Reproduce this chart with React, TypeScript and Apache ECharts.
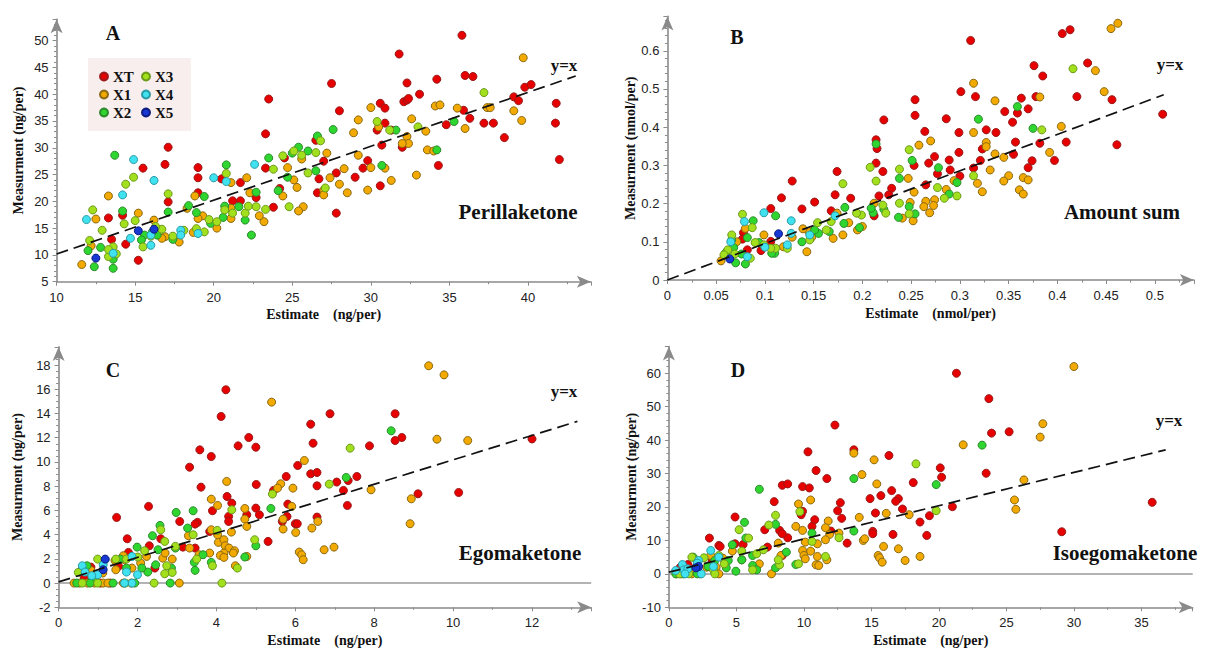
import React, { useEffect, useRef } from "react";
import * as echarts from "echarts";

// ---------- Data ----------
const SERIES_NAMES = ["XT", "X1", "X2", "X3", "X4", "X5"];

// Panel A: Perillaketone (ng/per)
const A_XT = [[35.8,51.0],[31.8,47.5],[27.5,42.0],[23.5,39.1],[28.0,36.9],[32.3,42.1],[32.1,38.6],[32.3,38.9],[32.4,39.2],[33.1,40.0],[34.2,42.8],[36.0,43.5],[36.5,43.3],[39.1,39.5],[39.8,41.3],[40.2,41.8],[41.8,38.3],[41.75,34.6],[42.0,27.8],[38.5,31.9],[37.8,34.6],[37.2,34.6],[36.3,35.5],[35.9,37.0],[34.8,34.3],[34.3,26.7],[39.4,38.8],[30.6,38.3],[30.9,37.4],[30.9,34.6],[30.4,33.3],[30.7,30.5],[31.3,33.3],[32.0,30.1],[30.6,22.9],[29.8,27.6],[29.5,26.2],[29.0,24.5],[27.8,25.3],[27.8,17.8],[27.0,27.5],[26.5,31.4],[26.7,24.2],[26.6,21.6],[23.3,26.2],[23.3,32.6],[24.5,28.1],[24.2,22.4],[23.8,18.9],[22.7,20.7],[21.7,23.5],[21.7,20.1],[21.2,20.1],[20.5,24.2],[19.0,26.3],[19.0,24.4],[19.0,21.6],[17.1,30.1],[16.9,26.9],[17.1,19.9],[15.5,26.2],[14.2,17.4],[13.3,16.9],[13.5,12.9],[14.4,12.0],[15.2,9.0]];
const A_X1 = [[39.7,46.8],[39.6,35.1],[39.1,36.9],[37.4,37.5],[37.6,37.5],[35.5,37.4],[36.0,33.6],[34.1,37.8],[34.4,38.0],[33.5,33.1],[33.6,29.6],[34.0,29.4],[32.9,24.9],[32.6,35.4],[32.3,32.1],[32.4,30.8],[32.0,30.8],[31.3,23.9],[30.9,26.2],[30.0,37.5],[30.5,33.9],[30.0,26.3],[29.8,22.1],[29.2,35.2],[28.9,32.8],[29.2,28.6],[28.5,21.6],[28.3,26.1],[28.0,23.2],[27.2,29.0],[27.4,24.4],[27.0,22.1],[27.0,21.2],[25.6,27.9],[25.7,19.0],[25.4,18.2],[25.3,22.6],[25.1,24.0],[24.7,26.3],[24.4,21.0],[23.2,16.2],[22.9,17.3],[22.3,21.6],[22.1,24.4],[21.1,23.5],[21.1,18.7],[21.1,16.8],[20.2,15.0],[19.3,17.3],[19.0,16.8],[18.8,21.0],[18.7,14.2],[18.3,18.7],[17.8,12.4],[16.9,13.4],[16.7,13.1],[16.2,16.5],[15.2,17.8],[13.3,21.0],[12.5,16.7],[12.2,11.7],[11.6,8.2]];
const A_X2 = [[35.3,34.9],[34.2,29.6],[31.6,33.3],[30.7,26.7],[27.6,33.4],[26.6,32.2],[26.5,25.7],[26.0,29.4],[25.4,30.1],[25.0,29.0],[24.7,24.5],[24.1,22.0],[23.5,28.1],[22.7,21.7],[22.4,13.7],[22.0,16.5],[21.6,19.0],[20.8,26.8],[20.7,19.1],[20.6,17.0],[19.8,15.9],[19.4,20.9],[18.9,17.9],[18.4,19.2],[17.4,12.9],[17.1,18.0],[16.4,13.7],[16.1,14.3],[15.6,13.7],[15.4,12.8],[14.2,18.2],[13.7,28.6],[13.7,10.0],[13.6,9.2],[13.6,7.5],[12.8,11.4],[12.4,7.8],[12.0,10.8]];
const A_X3 = [[37.2,40.3],[33.0,33.9],[31.2,33.3],[30.4,34.9],[27.1,22.5],[26.8,31.3],[26.5,29.1],[26.0,25.3],[25.6,28.6],[25.1,29.4],[24.4,28.5],[24.8,19.0],[23.8,26.0],[23.3,18.5],[22.7,19.0],[22.0,17.8],[22.2,19.1],[21.2,17.8],[20.8,25.2],[20.7,18.4],[20.2,16.2],[19.7,16.6],[19.4,14.3],[18.9,14.9],[18.1,14.6],[17.4,13.5],[17.1,21.4],[16.7,14.8],[16.3,15.3],[16.0,13.5],[15.5,11.5],[15.0,16.4],[14.9,24.5],[14.4,23.2],[14.3,15.8],[13.6,11.5],[13.8,10.2],[13.3,9.7],[12.9,14.6],[12.3,18.4],[12.1,12.7],[13.3,11.0]];
const A_X4 = [[22.6,26.9],[20.0,24.4],[20.8,23.7],[17.9,14.6],[17.9,13.7],[19.0,14.0],[16.2,23.9],[16.0,13.7],[16.0,11.8],[14.9,27.8],[14.7,13.1],[14.2,21.2],[13.6,10.3],[11.9,16.6]];
const A_X5 = [[15.2,14.5],[12.5,9.4],[16.2,14.8]];
const A_FIT = [[10, 10.16], [43.04, 43.4]];

// Panel B: Amount sum (nmol/per)
const B_XT = [[0.311,0.627],[0.405,0.645],[0.413,0.655],[0.431,0.568],[0.376,0.561],[0.385,0.534],[0.420,0.480],[0.378,0.480],[0.301,0.493],[0.316,0.480],[0.456,0.472],[0.508,0.434],[0.461,0.354],[0.363,0.476],[0.370,0.448],[0.346,0.441],[0.359,0.437],[0.354,0.413],[0.357,0.361],[0.355,0.329],[0.382,0.358],[0.409,0.361],[0.397,0.313],[0.374,0.312],[0.370,0.294],[0.337,0.386],[0.327,0.393],[0.323,0.343],[0.321,0.313],[0.314,0.293],[0.299,0.386],[0.299,0.334],[0.300,0.272],[0.289,0.314],[0.290,0.288],[0.286,0.422],[0.277,0.278],[0.274,0.323],[0.268,0.306],[0.265,0.249],[0.264,0.389],[0.254,0.431],[0.254,0.472],[0.253,0.300],[0.230,0.240],[0.222,0.419],[0.221,0.284],[0.227,0.223],[0.217,0.220],[0.214,0.367],[0.215,0.344],[0.214,0.306],[0.212,0.168],[0.188,0.214],[0.172,0.223],[0.174,0.284],[0.168,0.181],[0.151,0.204],[0.138,0.186],[0.128,0.259],[0.117,0.215],[0.106,0.187],[0.106,0.101],[0.096,0.077],[0.082,0.079],[0.078,0.124],[0.077,0.107]];
const B_X1 = [[0.462,0.672],[0.455,0.658],[0.439,0.548],[0.448,0.493],[0.404,0.402],[0.382,0.479],[0.392,0.334],[0.365,0.268],[0.370,0.262],[0.361,0.236],[0.365,0.225],[0.350,0.273],[0.345,0.259],[0.345,0.321],[0.336,0.330],[0.336,0.469],[0.331,0.288],[0.327,0.360],[0.327,0.349],[0.323,0.231],[0.318,0.253],[0.314,0.515],[0.314,0.386],[0.294,0.260],[0.286,0.237],[0.274,0.210],[0.273,0.195],[0.269,0.176],[0.265,0.206],[0.263,0.192],[0.270,0.364],[0.258,0.353],[0.253,0.230],[0.252,0.155],[0.249,0.203],[0.247,0.266],[0.241,0.162],[0.212,0.201],[0.186,0.150],[0.170,0.109],[0.180,0.118],[0.195,0.131],[0.200,0.140],[0.174,0.175],[0.145,0.127],[0.148,0.112],[0.143,0.074],[0.128,0.112],[0.119,0.087],[0.099,0.118],[0.080,0.135],[0.071,0.100],[0.055,0.050],[0.139,0.134]];
const B_X2 = [[0.359,0.454],[0.375,0.397],[0.319,0.421],[0.297,0.255],[0.289,0.225],[0.278,0.294],[0.251,0.313],[0.248,0.192],[0.254,0.173],[0.238,0.266],[0.237,0.164],[0.222,0.185],[0.214,0.356],[0.211,0.176],[0.209,0.188],[0.197,0.137],[0.182,0.190],[0.181,0.148],[0.166,0.127],[0.155,0.122],[0.151,0.131],[0.138,0.100],[0.111,0.168],[0.110,0.070],[0.107,0.070],[0.094,0.098],[0.088,0.155],[0.082,0.111],[0.080,0.042],[0.076,0.068],[0.068,0.085],[0.070,0.045],[0.060,0.072],[0.066,0.105]];
const B_X3 = [[0.416,0.553],[0.384,0.393],[0.314,0.273],[0.297,0.220],[0.284,0.214],[0.277,0.242],[0.248,0.341],[0.248,0.173],[0.238,0.290],[0.238,0.201],[0.224,0.175],[0.221,0.196],[0.214,0.259],[0.208,0.295],[0.199,0.170],[0.194,0.175],[0.180,0.252],[0.168,0.153],[0.163,0.131],[0.154,0.150],[0.146,0.105],[0.123,0.083],[0.111,0.083],[0.106,0.083],[0.099,0.092],[0.090,0.098],[0.087,0.137],[0.085,0.057],[0.077,0.172],[0.066,0.118],[0.069,0.068],[0.062,0.079],[0.058,0.066]];
const B_X4 = [[0.099,0.176],[0.079,0.153],[0.065,0.100],[0.127,0.155],[0.127,0.122],[0.123,0.092],[0.100,0.086],[0.146,0.118],[0.172,0.168],[0.082,0.061]];
const B_X5 = [[0.064,0.055],[0.114,0.121]];
const B_FIT = [[0, 0], [0.509, 0.485]];

// Panel C: Egomaketone (ng/per)
const C_XT = [[4.24,15.96],[4.12,13.76],[6.88,13.98],[8.53,13.98],[6.39,13.12],[8.70,12.02],[8.53,11.77],[4.82,12.02],[5.00,11.22],[4.55,11.33],[6.45,11.55],[7.88,11.33],[3.58,11.00],[3.87,10.45],[3.32,9.57],[6.06,9.71],[6.39,9.02],[6.55,9.13],[5.77,8.80],[7.56,8.80],[7.05,8.34],[7.34,8.47],[6.55,8.03],[5.01,8.14],[3.61,7.92],[4.27,7.15],[5.45,7.65],[7.22,7.65],[9.11,7.37],[10.14,7.48],[7.32,6.41],[4.39,6.60],[3.90,5.97],[5.00,6.19],[5.81,6.52],[4.31,5.50],[4.31,5.09],[4.77,5.64],[5.09,5.64],[3.52,5.01],[3.46,4.87],[3.07,5.09],[3.83,4.26],[6.00,4.90],[6.05,4.90],[5.79,5.50],[6.55,5.45],[5.31,3.44],[3.46,2.89],[3.15,2.97],[2.28,6.33],[1.47,5.42],[2.30,3.08],[2.59,3.66],[1.74,3.66],[1.77,2.53],[2.44,1.24],[1.52,1.38],[0.82,1.32],[0.60,1.16],[0.65,0.50],[1.06,0],[1.31,0],[12.0,11.9],[5.67,5.09]];
const C_X1 = [[9.38,17.94],[9.77,17.19],[5.40,14.94],[9.59,11.88],[10.37,11.77],[6.23,10.12],[4.26,8.39],[5.63,8.20],[5.55,7.84],[5.94,7.84],[7.92,7.70],[3.87,6.93],[4.03,6.41],[4.72,6.16],[4.72,5.28],[5.91,6.33],[8.94,6.96],[8.91,4.90],[5.69,5.28],[4.77,4.68],[4.38,4.21],[4.03,3.99],[4.05,3.36],[4.19,3.58],[4.22,3.08],[4.32,2.89],[4.46,2.67],[4.43,2.48],[4.19,2.48],[4.10,2.28],[4.19,2.12],[4.77,2.20],[4.48,1.43],[5.69,4.46],[6.01,4.18],[6.42,4.54],[6.57,5.09],[6.10,2.56],[6.16,2.34],[6.20,1.93],[6.73,2.75],[6.98,2.97],[3.87,4.40],[3.29,3.91],[3.32,2.89],[3.56,2.34],[3.83,2.48],[2.64,2.06],[2.70,2.48],[2.88,1.98],[2.23,2.20],[2.08,1.65],[1.86,1.24],[1.67,1.93],[1.64,2.26],[1.45,1.10],[1.43,1.87],[0.82,1.05],[1.12,0.83],[0.39,0],[0.53,0],[0.73,0],[0.91,0],[1.13,0],[1.25,0],[1.64,0],[1.84,0],[3.06,0]];
const C_X2 = [[8.43,12.57],[7.29,8.72],[5.38,6.16],[2.98,5.83],[3.41,5.97],[2.57,4.76],[2.38,3.91],[3.27,4.54],[1.99,2.97],[2.52,2.75],[2.96,2.89],[5.00,3.08],[3.44,1.71],[3.87,1.71],[3.66,2.34],[2.46,1.51],[2.86,1.24],[2.26,0.91],[3.46,1.05],[4.72,2.15],[2.11,1.24],[1.72,1.24],[1.57,1.98],[0.72,1.43],[0.86,0.33],[0.46,0],[0.80,0],[1.38,0],[1.93,0],[2.83,0]];
const C_X3 = [[7.39,11.14],[6.86,8.17],[5.42,7.35],[4.39,6.05],[2.59,4.40],[2.69,3.44],[3.41,3.99],[2.18,2.67],[2.96,3.03],[4.97,3.58],[4.02,4.35],[3.50,1.98],[3.90,1.43],[2.74,1.43],[2.88,0.88],[2.69,0.77],[4.53,1.24],[2.01,2.15],[1.72,1.98],[1.45,1.98],[0.99,1.98],[0.50,0.88],[0.60,0],[0.99,0],[1.69,0],[2.42,0],[4.14,0]];
const C_X4 = [[1.86,2.20],[1.18,1.93],[1.13,1.51],[0.60,1.43],[0.67,0.91],[0.99,0.69],[1.72,0.91],[2.00,0.69],[0.84,0.61],[1.86,0],[1.67,0]];
const C_X5 = [[1.18,1.98],[1.13,1.10]];
const C_FIT = [[0, 0.1], [13.15, 13.35]];

// Panel D: Isoegomaketone (ng/per)
const D_XT = [[21.3,60.0],[23.7,52.4],[23.9,42.1],[25.2,42.5],[12.3,44.5],[10.3,36.5],[13.7,37.1],[16.3,35.4],[10.9,30.9],[11.7,28.5],[8.4,26.5],[8.8,26.9],[9.9,26.1],[10.4,25.7],[20.1,31.7],[20.2,28.9],[23.5,30.1],[18.1,27.3],[16.5,24.9],[15.7,23.4],[14.9,22.5],[17.0,22.5],[16.8,21.7],[12.7,21.3],[12.5,18.9],[12.8,16.6],[10.8,16.2],[10.6,14.2],[7.8,21.6],[9.9,18.7],[9.8,17.7],[15.3,18.2],[17.3,19.4],[19.3,17.4],[18.6,15.5],[21.0,20.1],[35.8,21.4],[29.1,12.6],[19.1,11.5],[16.6,11.8],[15.1,12.7],[15.1,12.0],[12.0,12.8],[13.2,9.2],[8.8,10.8],[8.2,13.0],[8.4,12.0],[7.1,13.2],[4.9,17.0],[4.9,9.0],[5.5,8.8],[3.7,8.5],[3.8,8.2],[3.0,10.7],[3.2,3.8],[8.4,5.5],[7.3,8.0],[0.85,2.0],[1.4,2.8],[2.0,2.0]];
const D_X1 = [[30.0,62.0],[27.7,44.9],[27.5,40.9],[21.8,38.6],[13.7,36.1],[15.2,34.1],[14.3,29.7],[15.4,26.9],[26.3,28.1],[25.6,22.1],[25.7,19.3],[10.5,22.1],[9.6,20.9],[14.1,16.9],[16.1,18.1],[17.8,17.7],[11.8,15.8],[11.6,13.8],[9.9,13.0],[9.4,14.2],[14.4,10.0],[14.5,10.5],[12.6,12.2],[11.9,11.8],[11.6,10.2],[11.0,9.0],[10.1,9.5],[9.9,7.0],[10.5,6.8],[10.0,5.5],[10.1,4.5],[11.0,5.2],[10.9,2.7],[11.1,2.5],[11.7,4.2],[15.5,5.5],[15.6,4.8],[15.8,3.5],[15.9,8.2],[17.0,7.5],[17.5,4.0],[18.6,5.2],[8.1,9.2],[8.3,5.5],[7.6,0],[4.7,6.8],[5.4,4.2],[6.7,3.0],[4.0,4.7],[3.5,2.0],[2.8,2.0],[3.1,5.5],[0.57,0],[0.91,0],[1.7,0],[2.3,0],[3.7,0]];
const D_X2 = [[23.2,38.5],[19.8,26.7],[13.7,28.5],[13.7,12.8],[10.6,12.2],[6.7,25.3],[7.9,14.8],[5.6,15.4],[5.7,10.7],[4.7,8.7],[4.96,0.8],[6.2,5.5],[6.2,2.5],[6.5,1.2],[7.9,1.8],[8.7,6.5],[5.4,4.2],[9.4,2.8],[4.4,4.0],[4.25,1.8],[3.4,4.0],[1.8,5.0],[2.9,2.2],[0.51,0],[1.08,0],[2.1,0]];
const D_X3 = [[18.3,32.9],[19.8,18.9],[12.6,10.8],[9.7,18.6],[7.9,17.5],[7.4,14.6],[5.2,13.2],[5.9,10.7],[5.4,6.8],[6.5,6.0],[6.2,1.2],[8.2,2.7],[8.1,4.2],[7.0,7.2],[11.6,5.2],[9.6,3.0],[10.6,9.7],[4.1,3.0],[3.7,5.5],[3.3,1.2],[1.7,5.0],[2.6,4.8],[0.79,0],[1.47,0],[3.4,0]];
const D_X4 = [[3.1,7.0],[3.7,5.0],[2.2,4.0],[2.1,3.2],[1.0,2.8],[1.1,1.2],[1.4,1.5],[0.5,1.0],[3.3,2.2],[1.2,0],[2.4,0]];
const D_X5 = [[2.2,2.2],[2.0,1.8]];
const D_FIT = [[0, 0.5], [36.8, 37.1]];

const PANEL_DATA = [
  [A_XT, A_X1, A_X2, A_X3, A_X4, A_X5],
  [B_XT, B_X1, B_X2, B_X3, B_X4, B_X5],
  [C_XT, C_X1, C_X2, C_X3, C_X4, C_X5],
  [D_XT, D_X1, D_X2, D_X3, D_X4, D_X5],
];
const PANEL_FITS = [A_FIT, B_FIT, C_FIT, D_FIT];
const PANEL_LETTERS = ["A", "B", "C", "D"];
const PANEL_TITLES = ["Perillaketone", "Amount sum", "Egomaketone", "Isoegomaketone"];
const X_NAMES = ["Estimate    (ng/per)", "Estimate    (nmol/per)", "Estimate    (ng/per)", "Estimate    (ng/per)"];
const Y_NAMES = ["Measurment (ng/per)", "Measurment (nmol/per)", "Measurment (ng/per)", "Measurment (ng/per)"];

// ---------- Styles / layout ----------
const FILL = ["#e60000", "#f2a900", "#2fd62f", "#a2e01e", "#3fe2ee", "#1838d4"];
const EDGE = ["#9a1a1a", "#8a6a14", "#2c8a2c", "#6c9a1a", "#2a9aa6", "#0c1c80"];
const SERIF = "'Liberation Serif', 'Times New Roman', serif";
const SANS = "'Liberation Sans', Arial, sans-serif";

const GRIDS = [
  { left: 56.6, top: 19.2, width: 534.2, height: 262.5 },
  { left: 667.4, top: 16.4, width: 526.5, height: 263.6 },
  { left: 58.6, top: 346.9, width: 532.6, height: 260.4 },
  { left: 668.9, top: 346.5, width: 523.8, height: 260.8 },
];
const X_SCALE = [
  { min: 10, max: 44, interval: 5, minor: 2 },
  { min: 0, max: 0.54, interval: 0.05, minor: 2 },
  { min: 0, max: 13.5, interval: 2, minor: 2 },
  { min: 0, max: 38.8, interval: 5, minor: 2 },
];
const Y_SCALE = [
  { min: 5, max: 54, interval: 5, minor: 5 },
  { min: 0, max: 0.69, interval: 0.1, minor: 5 },
  { min: -2, max: 19.5, interval: 2, minor: 4 },
  { min: -10, max: 68, interval: 10, minor: 5 },
];
const Y_NAME_GAP = [31, 28, 34, 29];

const AXIS_COLOR = "#8a8a8a";

function axisBase(scale: any) {
  return {
    type: "value",
    min: scale.min,
    max: scale.max,
    interval: scale.interval,
    axisLine: {
      show: true,
      onZero: false,
      symbol: ["none", "arrow"],
      symbolSize: [9, 14],
      lineStyle: { color: AXIS_COLOR, width: 1.6 },
    },
    axisTick: { show: true, length: 4, lineStyle: { color: AXIS_COLOR, width: 1 } },
    minorTick: { show: true, splitNumber: scale.minor, length: 2.5, lineStyle: { color: AXIS_COLOR, width: 1 } },
    splitLine: { show: false },
    minorSplitLine: { show: false },
    axisLabel: {
      showMaxLabel: false,
      color: "#222",
      fontSize: 13,
      fontFamily: SANS,
    },
    nameTextStyle: { fontFamily: SERIF, fontWeight: "bold", fontSize: 14, color: "#111" },
  };
}

function legendCfg(names: string[], left: number, top: number, padding: number[], bg: string | undefined) {
  return {
    data: names,
    orient: "vertical",
    left,
    top,
    padding,
    itemGap: 3,
    itemWidth: 8,
    itemHeight: 8,
    icon: "circle",
    backgroundColor: bg || "transparent",
    selectedMode: false,
    textStyle: { fontFamily: SERIF, fontWeight: "bold", fontSize: 15, color: "#111", lineHeight: 15 },
  };
}

function buildOption() {
  const xAxis = GRIDS.map((_, i) => {
    const b: any = axisBase(X_SCALE[i]);
    b.gridIndex = i;
    b.name = X_NAMES[i];
    b.nameLocation = "middle";
    b.nameGap = 26;
    b.axisLabel.margin = 9;
    return b;
  });
  const yAxis = GRIDS.map((_, i) => {
    const b: any = axisBase(Y_SCALE[i]);
    b.gridIndex = i;
    b.name = Y_NAMES[i];
    b.nameLocation = "middle";
    b.nameGap = Y_NAME_GAP[i];
    b.axisLabel.margin = 8;
    return b;
  });

  const series: any[] = [];
  PANEL_DATA.forEach((groups, p) => {
    groups.forEach((data, s) => {
      series.push({
        type: "scatter",
        name: SERIES_NAMES[s],
        xAxisIndex: p,
        yAxisIndex: p,
        data,
        symbol: "circle",
        symbolSize: 8,
        itemStyle: { color: FILL[s], borderColor: EDGE[s], borderWidth: 1, opacity: 1 },
        z: 2,
      });
    });
    const fit: any = {
      type: "line",
      xAxisIndex: p,
      yAxisIndex: p,
      data: PANEL_FITS[p],
      showSymbol: false,
      symbol: "none",
      silent: true,
      z: 5,
      lineStyle: { color: "#111", width: 1.7, type: [12, 6] },
    };
    if (p >= 2) {
      fit.markLine = {
        silent: true,
        symbol: ["none", "none"],
        label: { show: false },
        lineStyle: { color: "#9a9a9a", type: "solid", width: 1.5 },
        data: [{ yAxis: 0 }],
        z: 1,
      };
    }
    series.push(fit);
  });

  const letterPos = [[113, 33], [737, 37], [113, 370], [738, 370]];
  const yxPos = [[564, 65], [1170, 64], [564, 391], [1169, 420]];
  const titlePos = [[518, 212], [1122, 212], [520, 553], [1125, 553]];
  const graphic: any[] = [];
  for (let i = 0; i < 4; i++) {
    graphic.push({
      type: "text", x: letterPos[i][0], y: letterPos[i][1],
      style: { text: PANEL_LETTERS[i], font: `bold 20px ${SERIF}`, fill: "#111", align: "center", verticalAlign: "middle" },
    });
    graphic.push({
      type: "text", x: yxPos[i][0], y: yxPos[i][1],
      style: { text: "y=x", font: `bold 17px ${SERIF}`, fill: "#111", align: "center", verticalAlign: "middle" },
    });
    graphic.push({
      type: "text", x: titlePos[i][0], y: titlePos[i][1],
      style: { text: PANEL_TITLES[i], font: `bold 21px ${SERIF}`, fill: "#111", align: "center", verticalAlign: "middle" },
    });
  }

  return {
    animation: false,
    backgroundColor: "#ffffff",
    grid: GRIDS.map((g) => ({ ...g, containLabel: false, outerBoundsMode: "none" })),
    xAxis,
    yAxis,
    legend: [
      legendCfg(["XT", "X1", "X2"], 88, 58, [11, 57, 11, 11], "#f8eeee"),
      legendCfg(["X3", "X4", "X5"], 141, 69, [0, 0, 0, 0], undefined),
    ],
    series,
    graphic,
  };
}

export default function App() {
  const ref = useRef<HTMLDivElement>(null);
  useEffect(() => {
    const chart = echarts.init(ref.current as HTMLDivElement, null, { renderer: "svg" });
    chart.setOption(buildOption() as any);
    return () => chart.dispose();
  }, []);
  return (
    <div
      ref={ref}
      style={{ position: "absolute", left: 0, top: 0, width: 1205, height: 648, background: "#fff" }}
    />
  );
}
